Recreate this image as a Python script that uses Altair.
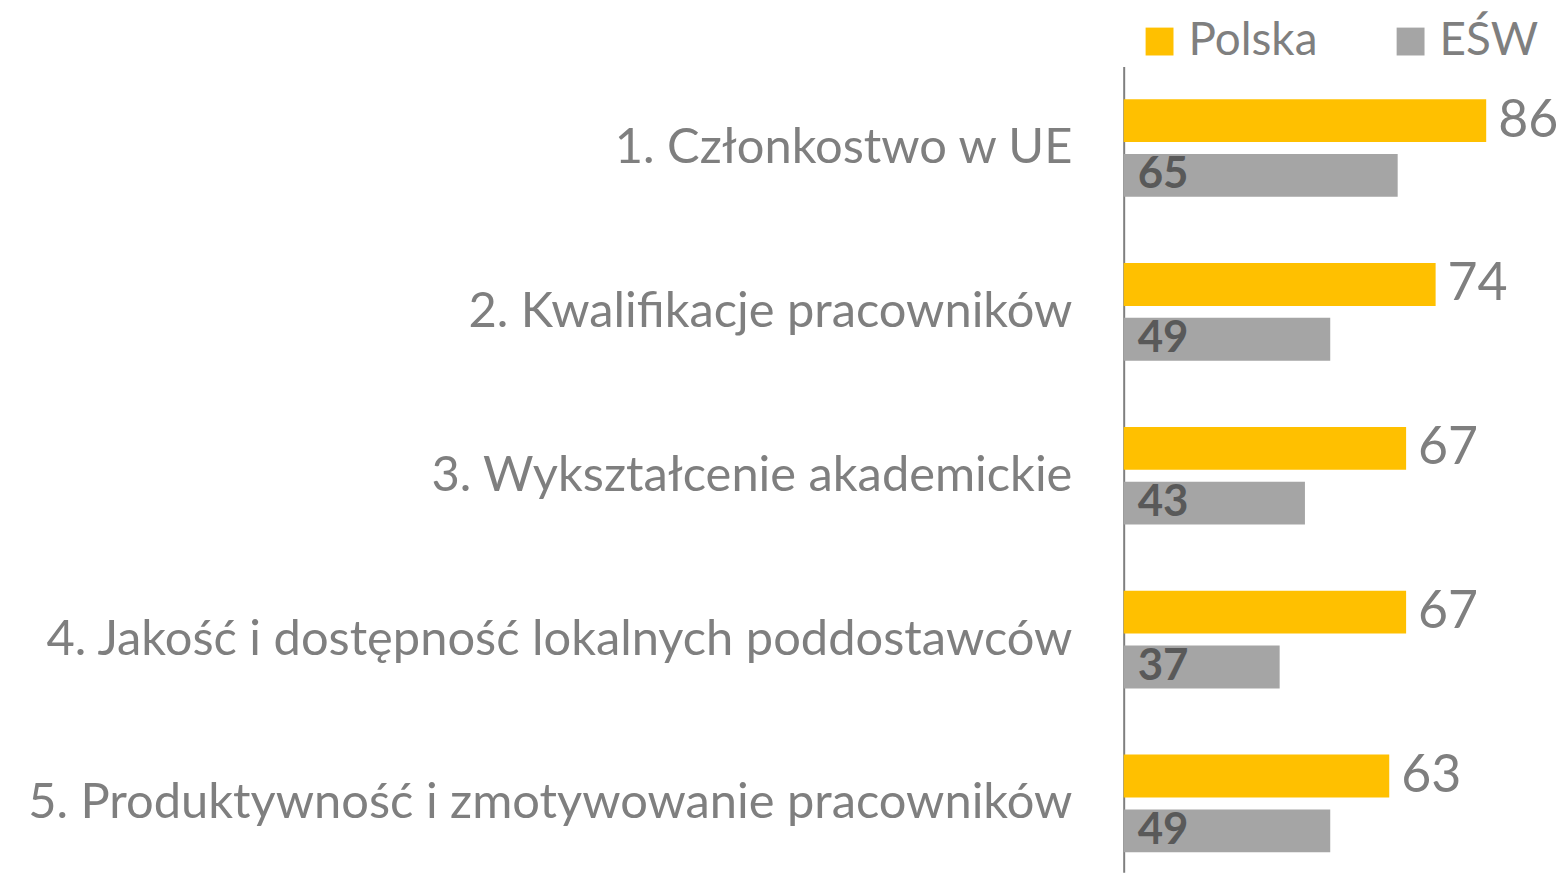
import altair as alt
import pandas as pd

categories = [
    "1. Członkostwo w UE",
    "2. Kwalifikacje pracowników",
    "3. Wykształcenie akademickie",
    "4. Jakość i dostępność lokalnych poddostawców",
    "5. Produktywność i zmotywowanie pracowników",
]
series = ["Polska", "EŚW"]
polska = [86, 74, 67, 67, 63]
esw = [65, 49, 43, 37, 49]
colors = ["#FFC000", "#A5A5A5"]

rows = []
for c, p, e in zip(categories, polska, esw):
    rows.append({"cat": c, "series": "Polska", "value": p})
    rows.append({"cat": c, "series": "EŚW", "value": e})
df = pd.DataFrame(rows)

FONT = "Lato"
GREY = "#7F7F7F"

y_enc = alt.Y(
    "cat:N",
    sort=categories,
    scale=alt.Scale(paddingInner=0.404, paddingOuter=0.161, align=0.62),
    axis=alt.Axis(
        title=None,
        ticks=False,
        labelPadding=52,
        labelFontSize=49,
        labelFont=FONT,
        labelColor=GREY,
        labelLimit=0,
        domainColor=GREY,
        domainWidth=2,
    ),
)
yoff = alt.YOffset("series:N", sort=series, scale=alt.Scale(paddingInner=0.218, paddingOuter=0))
x_scale = alt.Scale(domain=[0, 95])

base = alt.Chart(df)

bars = base.mark_bar().encode(
    x=alt.X("value:Q", scale=x_scale, axis=None),
    y=y_enc,
    yOffset=yoff,
    color=alt.Color(
        "series:N",
        scale=alt.Scale(domain=series, range=colors),
        legend=alt.Legend(
            title=None,
            orient="none",
            legendX=13,
            legendY=-48,
            direction="horizontal",
            symbolType="square",
            symbolSize=784,
            symbolStrokeWidth=0,
            labelFontSize=46,
            labelFont=FONT,
            labelColor=GREY,
            labelOffset=6,
            columnPadding=70,
        ),
    ),
)

pl_text = base.transform_filter(alt.datum.series == "Polska").mark_text(
    align="left", baseline="middle", dx=12, fontSize=52, font=FONT, color=GREY
).encode(
    x=alt.X("value:Q", scale=x_scale),
    y=alt.Y("cat:N", sort=categories),
    yOffset=yoff,
    text="value:Q",
)

esw_text = base.transform_filter(alt.datum.series == "EŚW").transform_calculate(
    zero="0"
).mark_text(
    align="left", baseline="middle", dx=14, fontSize=44, font=FONT, fontWeight="bold", color="#595959"
).encode(
    x=alt.X("zero:Q", scale=x_scale),
    y=alt.Y("cat:N", sort=categories),
    yOffset=yoff,
    text="value:Q",
)

chart = (
    alt.layer(bars, pl_text, esw_text)
    .properties(
        width=402,
        height=809,
        autosize=alt.AutoSizeParams(type="none"),
        padding={"left": 1120, "top": 57, "right": 36, "bottom": 0},
    )
    .configure_view(stroke=None)
)

chart.save("out.html", embed_options={"renderer": "svg", "actions": False})
